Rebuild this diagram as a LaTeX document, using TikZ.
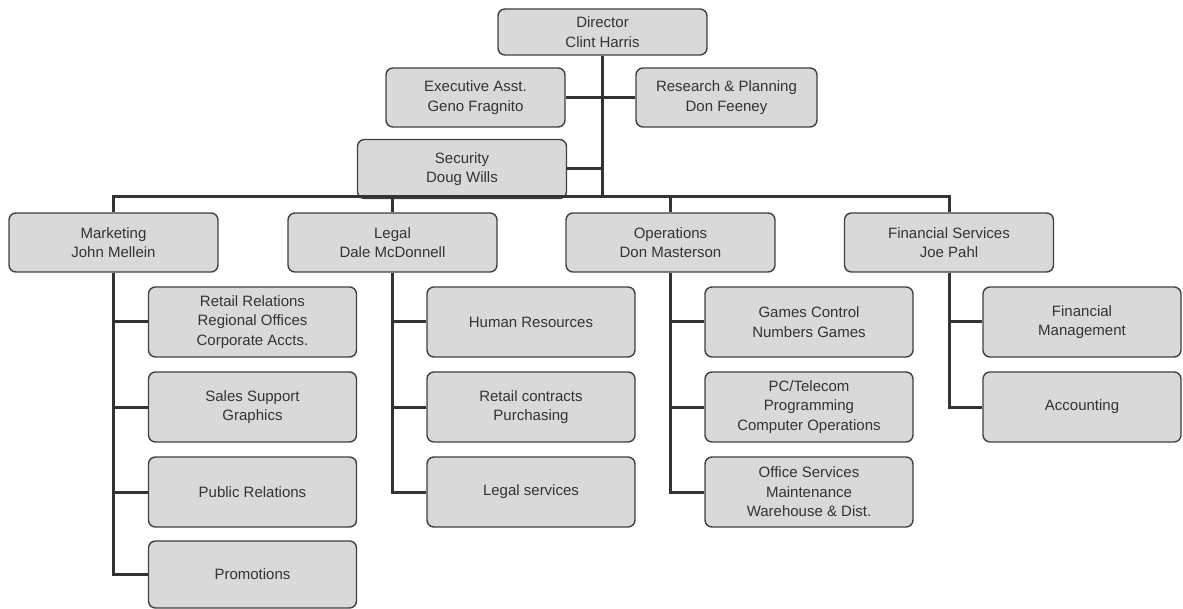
\documentclass[tikz,border=0pt]{standalone}
\usepackage{fontspec}
\setmainfont{Liberation Sans}

\begin{document}
\begin{tikzpicture}[x=1pt, y=-1pt,
  unit/.style={draw=black!75, line width=1.4pt, fill=gray!30, rounded corners=7pt,
    align=center, text=black!80, inner sep=0pt, font=\fontsize{15}{19.5}\selectfont},
  head/.style={unit, minimum width=209pt, minimum height=59pt},
  sub/.style={unit, minimum width=208pt, minimum height=70pt},
  link/.style={draw=black!80, line width=3pt}]
\def\rowone{322}
\def\rowtwo{407}
\def\rowthree{492}

\useasboundingbox (0,0) rectangle (1183,609);

% TOP
\node[unit, minimum width=209pt, minimum height=46pt] (dir) at (602.5,32) {Director\\Clint Harris};
\node[unit, minimum width=179pt, minimum height=59pt] (asst) at (475.5,97.5) {Executive Asst.\\Geno Fragnito};
\node[unit, minimum width=181pt, minimum height=59pt] (rnp) at (726.5,97.5) {Research \& Planning\\Don Feeney};
\node[head] (sec) at (462,169) {Security\\Doug Wills};
\coordinate (bar) at (602.5,197);

% DEPARTMENTS
\node[head] (mkt) at (113.5,242.5) {Marketing\\John Mellein};
\node[head] (legal) at (392.5,242.5) {Legal\\Dale McDonnell};
\node[head] (ops) at (670.5,242.5) {Operations\\Don Masterson};
\node[head] (fin) at (949,242.5) {Financial Services\\Joe Pahl};

% MARKETING
\node[sub] (retail) at (252.5,\rowone) {Retail Relations\\Regional Offices\\Corporate Accts.};
\node[sub] (sales) at (252.5,\rowtwo) {Sales Support\\Graphics};
\node[sub] (pr) at (252.5,\rowthree) {Public Relations};
\node[sub, minimum height=67pt] (promo) at (252.5,574.5) {Promotions};

% LEGAL
\node[sub] (hr) at (531,\rowone) {Human Resources};
\node[sub] (contracts) at (531,\rowtwo) {Retail contracts\\Purchasing};
\node[sub] (lserv) at (531,\rowthree) {Legal services};

% OPERATIONS
\node[sub] (games) at (809,\rowone) {Games Control\\Numbers Games};
\node[sub] (pc) at (809,\rowtwo) {PC/Telecom\\Programming\\Computer Operations};
\node[sub] (office) at (809,\rowthree) {Office Services\\Maintenance\\Warehouse \& Dist.};

% FINANCIAL SERVICES
\node[sub, minimum width=198pt] (fmgmt) at (1082,\rowone) {Financial\\Management};
\node[sub, minimum width=198pt] (acct) at (1082,\rowtwo) {Accounting};

% LINKS
\draw[link] (dir.south) -- (bar);
\draw[link] (asst.east) -- (rnp.west);
\draw[link] (sec.east) -- (sec.east -| dir.south);
\draw[link] (mkt.north) |- (bar) -| (fin.north);
\draw[link] (legal.north) -- (legal.north |- bar);
\draw[link] (ops.north) -- (ops.north |- bar);

\draw[link] (mkt.south) |- (promo.west);
\draw[link] (mkt.south |- retail.west) -- (retail.west);
\draw[link] (mkt.south |- sales.west) -- (sales.west);
\draw[link] (mkt.south |- pr.west) -- (pr.west);

\draw[link] (legal.south) |- (lserv.west);
\draw[link] (legal.south |- hr.west) -- (hr.west);
\draw[link] (legal.south |- contracts.west) -- (contracts.west);

\draw[link] (ops.south) |- (office.west);
\draw[link] (ops.south |- games.west) -- (games.west);
\draw[link] (ops.south |- pc.west) -- (pc.west);

\draw[link] (fin.south) |- (acct.west);
\draw[link] (fin.south |- fmgmt.west) -- (fmgmt.west);
\end{tikzpicture}
\end{document}
